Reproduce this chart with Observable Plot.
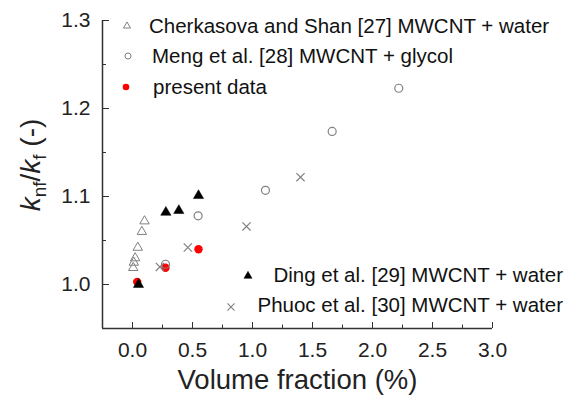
<!DOCTYPE html>
<html>
<head>
<meta charset="utf-8">
<script src="https://cdn.jsdelivr.net/npm/d3@7"></script>
<script src="https://cdn.jsdelivr.net/npm/@observablehq/plot@0.6"></script>
<style>
  body { margin: 0; background: #fff; }
  #wrap { position: relative; width: 577px; height: 400px; font-family: "Liberation Sans", Arial, sans-serif; }
  #wrap svg { position: absolute; left: 0; top: 0; }
</style>
</head>
<body>
<div id="wrap"></div>
<script>
// ---- data (volume fraction %, k_nf/k_f) ----
const cherkasovaX = [0.006, 0.011, 0.022, 0.044, 0.078, 0.100];
const cherkasovaY = [1.019, 1.025, 1.030, 1.042, 1.060, 1.072];
const mengX = [0.275, 0.547, 1.108, 1.664, 2.219];
const mengY = [1.023, 1.078, 1.107, 1.174, 1.223];
const dingX = [0.05, 0.278, 0.386, 0.55];
const dingY = [1.000, 1.082, 1.084, 1.101];
const phuocX = [0.228, 0.461, 0.95, 1.40];
const phuocY = [1.020, 1.042, 1.066, 1.122];
const presentX = [0.039, 0.275, 0.55];
const presentY = [1.003, 1.019, 1.040];

const seriesLabels = [
  "Cherkasova and Shan [27] MWCNT + water",
  "Meng et al. [28] MWCNT + glycol",
  "present data",
  "Ding et al. [29] MWCNT + water",
  "Phuoc et al. [30] MWCNT + water"
];
const xLabel = "Volume fraction (%)";

const xDomain = [-0.25, 3.0];
const yDomain = [0.95, 1.3];
const xTicks = [0, 0.5, 1.0, 1.5, 2.0, 2.5, 3.0];
const xMinorTicks = [0.25, 0.75, 1.25, 1.75, 2.25, 2.75];
const yTicks = [1.0, 1.1, 1.2, 1.3];
const yMinorTicks = [1.05, 1.15, 1.25];

const toRows = (X, Y) => X.map((x, i) => ({x, y: Y[i]}));
const cherkasova = toRows(cherkasovaX, cherkasovaY);
const meng = toRows(mengX, mengY);
const ding = toRows(dingX, dingY);
const phuoc = toRows(phuocX, phuocY);
const present = toRows(presentX, presentY);

const gray = "#808080";
const axisColor = "#333";
const font = "Liberation Sans, Arial, sans-serif";

const chart = Plot.plot({
  width: 577,
  height: 400,
  marginLeft: 102,
  marginRight: 85,
  marginTop: 20,
  marginBottom: 72,
  x: {domain: xDomain},
  y: {domain: yDomain},
  style: {fontFamily: font, background: "white", color: "#222"},
  marks: [
    Plot.axisX({ticks: xTicks, tickSize: -6, tickPadding: 20, tickFormat: d3.format(".1f"), fontSize: 21, label: null, stroke: axisColor}),
    Plot.axisX({ticks: xMinorTicks, tickSize: -3.5, tickFormat: () => "", label: null, stroke: axisColor}),
    Plot.axisY({ticks: yTicks, tickSize: -7, tickPadding: 19, tickFormat: d3.format(".1f"), fontSize: 21, label: null, stroke: axisColor}),
    Plot.axisY({ticks: yMinorTicks, tickSize: -4, tickFormat: () => "", label: null, stroke: axisColor}),
    Plot.ruleX([xDomain[0]], {stroke: axisColor, strokeWidth: 1.5}),
    Plot.ruleY([yDomain[0]], {stroke: axisColor, strokeWidth: 1.5}),
    Plot.dot(present, {x: "x", y: "y", r: 4.2, fill: "#ff0000"}),
    Plot.dot(cherkasova, {x: "x", y: "y", r: 3.5, symbol: "triangle", stroke: gray, strokeWidth: 1, fill: "none"}),
    Plot.dot(meng, {x: "x", y: "y", r: 4, symbol: "circle", stroke: gray, strokeWidth: 1.2, fill: "none"}),
    Plot.dot(ding, {x: "x", y: "y", r: 3.8, symbol: "triangle", fill: "#000", stroke: "#000", strokeWidth: 0.5}),
    Plot.dot(phuoc, {x: "x", y: "y", r: 3.8, symbol: "times", stroke: gray, strokeWidth: 1.2}),
    Plot.text([xLabel], {frameAnchor: "bottom", dy: 60, fontSize: 27.5, fill: "#222"})
  ]
});

const wrap = document.getElementById("wrap");
wrap.appendChild(chart);

// ---- overlay: legends and y-axis label ----
const ov = d3.select(wrap).append("svg")
  .attr("width", 577).attr("height", 400)
  .style("pointer-events", "none")
  .style("font-family", font);

function sym(type, r) { return d3.symbol(type, Math.PI * r * r)(); }

const legendTop = [
  {label: seriesLabels[0], mx: 127, my: 26, tx: 149, d: sym(d3.symbolTriangle, 2.6), fill: "none", stroke: gray, sw: 1},
  {label: seriesLabels[1], mx: 128, my: 56, tx: 152, d: sym(d3.symbolCircle, 3), fill: "none", stroke: gray, sw: 1},
  {label: seriesLabels[2], mx: 126, my: 87, tx: 153, d: sym(d3.symbolCircle, 3.3), fill: "#ff0000", stroke: "none", sw: 0}
];
legendTop.forEach(it => {
  ov.append("path").attr("d", it.d).attr("transform", `translate(${it.mx},${it.my})`)
    .attr("fill", it.fill).attr("stroke", it.stroke).attr("stroke-width", it.sw);
  ov.append("text").attr("x", it.tx).attr("y", it.my).attr("dy", "0.36em")
    .attr("font-size", 20.5).attr("fill", "#111").text(it.label);
});

const legendBottom = [
  {label: seriesLabels[3], mx: 248, my: 276, ty: 275, d: sym(d3.symbolTriangle, 3), fill: "#000", stroke: "#000", sw: 0.5},
  {label: seriesLabels[4], mx: 231, my: 307, ty: 305, d: sym(d3.symbolTimes, 3.3), fill: "none", stroke: gray, sw: 1.1}
];
legendBottom.forEach(it => {
  ov.append("path").attr("d", it.d).attr("transform", `translate(${it.mx},${it.my})`)
    .attr("fill", it.fill).attr("stroke", it.stroke).attr("stroke-width", it.sw);
  ov.append("text").attr("x", 563).attr("y", it.ty).attr("dy", "0.36em")
    .attr("text-anchor", "end").attr("font-size", 20.5).attr("fill", "#111").text(it.label);
});

// y-axis label: k_nf / k_f (-)
const yl = ov.append("text")
  .attr("transform", "translate(40,165) rotate(-90)")
  .attr("text-anchor", "middle")
  .attr("font-size", 28)
  .attr("fill", "#222");
yl.append("tspan").attr("font-style", "italic").text("k");
yl.append("tspan").attr("font-size", 19).attr("dy", 6).text("nf");
yl.append("tspan").attr("dy", -6).text("/");
yl.append("tspan").attr("font-style", "italic").text("k");
yl.append("tspan").attr("font-size", 19).attr("dy", 6).text("f");
yl.append("tspan").attr("dy", -6).text(" (-)");
</script>
</body>
</html>
